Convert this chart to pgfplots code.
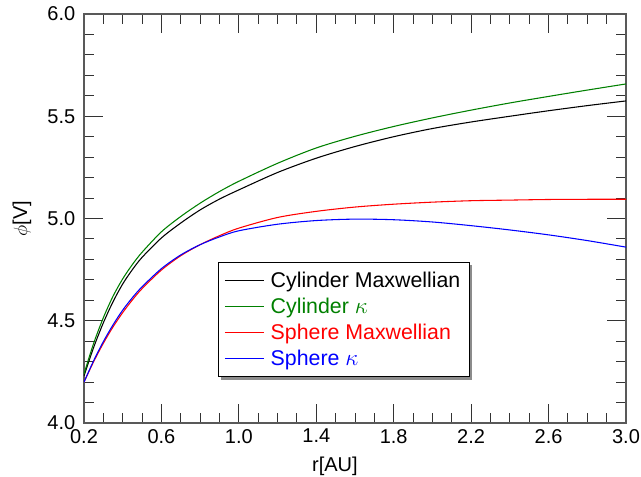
\documentclass[border=0pt]{standalone}
\usepackage{pgfplots}
\pgfplotsset{compat=1.18}
\usepackage{fontspec}
\setmainfont{Liberation Sans}
\usetikzlibrary{backgrounds}
\definecolor{cgreen}{rgb}{0,0.5,0}
\definecolor{axgray}{gray}{0.35}

\pgfplotstableread{
x     cm     ck     sm     sk
0.20  4.230  4.240  4.200  4.200
0.25  4.370  4.390  4.300  4.305
0.30  4.490  4.515  4.390  4.398
0.35  4.593  4.620  4.470  4.480
0.40  4.680  4.705  4.540  4.552
0.45  4.750  4.775  4.602  4.613
0.50  4.810  4.835  4.657  4.666
0.60  4.905  4.935  4.748  4.755
0.70  4.978  5.010  4.818  4.822
0.80  5.042  5.075  4.872  4.872
0.90  5.095  5.132  4.916  4.910
1.00  5.140  5.182  4.953  4.940
1.20  5.225  5.270  5.005  4.972
1.40  5.295  5.345  5.035  4.990
1.60  5.352  5.402  5.056  4.997
1.80  5.400  5.450  5.070  4.994
2.00  5.440  5.492  5.080  4.983
2.20  5.472  5.530  5.087  4.965
2.40  5.500  5.565  5.090  4.944
2.60  5.527  5.597  5.093  4.920
2.80  5.552  5.628  5.094  4.892
3.00  5.575  5.658  5.094  4.860
}\datatable

\begin{document}
\begin{tikzpicture}
\begin{axis}[
  at={(0,0)}, anchor=south west,
  scale only axis,
  width=406.5pt, height=306.75pt,
  xmin=0.2, xmax=3.0, ymin=4.0, ymax=6.0,
  xtick={0.2,0.6,...,3.0},
  ytick={4.0,4.5,...,6.0},
  minor x tick num=3,
  minor y tick num=4,
  tick align=inside,
  major tick length=14pt,
  minor tick length=7.5pt,
  /pgf/number format/fixed,
  /pgf/number format/fixed zerofill,
  /pgf/number format/precision=1,
  /pgf/number format/assume math mode=true,
  ticklabel style={font=\fontsize{15}{18}\selectfont},
  xticklabel style={yshift=-1pt},
  yticklabel style={xshift=-3pt},
  axis line style={axgray, line width=0.8pt},
  every tick/.style={black!80, line width=0.7pt},
  xlabel={r[AU]},
  ylabel={$\phi$[V]},
  label style={font=\fontsize{15}{18}\selectfont},
  xlabel style={at={(rel axis cs:0.463,0)}, anchor=north, yshift=-22pt},
  ylabel style={at={(rel axis cs:0,0.5)}, anchor=south, yshift=36pt},
  legend style={name=leg, at={(rel axis cs:0.247,0.394)}, anchor=north west,
    draw=black, line width=0.7pt, fill=white,
    font=\fontsize{16}{18}\selectfont,
    inner xsep=4.5pt, inner ysep=5pt, row sep=2.5pt,
    cells={anchor=west}},
  legend image code/.code={\draw[#1, line width=0.75pt] (0pt,0pt) -- (29pt,0pt); \path (32pt,0pt);},
  every axis plot/.append style={line width=0.8pt},
]
\addplot[black, smooth] table[x=x, y=cm] {\datatable};
\addlegendentry{\textcolor{black}{Cylinder Maxwellian}}
\addplot[cgreen, smooth] table[x=x, y=ck] {\datatable};
\addlegendentry{\textcolor{cgreen}{Cylinder $\kappa$}}
\addplot[red, smooth] table[x=x, y=sm] {\datatable};
\addlegendentry{\textcolor{red}{Sphere Maxwellian}}
\addplot[blue, smooth] table[x=x, y=sk] {\datatable};
\addlegendentry{\textcolor{blue}{Sphere $\kappa$}}
\end{axis}
\begin{scope}[on background layer]
\fill[black!45] ([shift={(2.2pt,-2.2pt)}]leg.south west) rectangle ([shift={(2.2pt,-2.2pt)}]leg.north east);
\end{scope}
\pgfresetboundingbox
\path[use as bounding box] (-63pt,-39.75pt) rectangle (417.75pt,317.25pt);
\end{tikzpicture}
\end{document}
